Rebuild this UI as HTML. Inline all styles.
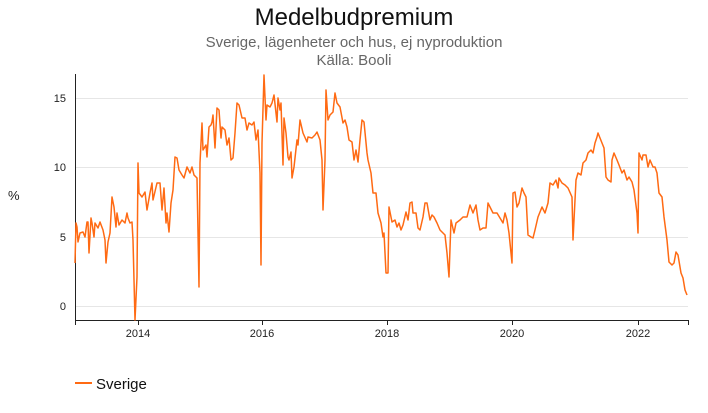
<!DOCTYPE html>
<html><head><meta charset="utf-8"><style>
body{margin:0;background:#fff;font-family:"Liberation Sans",sans-serif}
</style></head><body>
<svg width="708" height="408" xmlns="http://www.w3.org/2000/svg" font-family="Liberation Sans, sans-serif">
<text x="354" y="25" text-anchor="middle" font-size="24" fill="#111">Medelbudpremium</text>
<text x="354" y="47" text-anchor="middle" font-size="15" fill="#666">Sverige, lägenheter och hus, ej nyproduktion</text>
<text x="354" y="65" text-anchor="middle" font-size="15" fill="#666">Källa: Booli</text>
<g stroke="#e6e6e6" stroke-width="1">
<line x1="75" x2="688" y1="98.5" y2="98.5"/><line x1="75" x2="688" y1="167.5" y2="167.5"/>
<line x1="75" x2="688" y1="237.5" y2="237.5"/><line x1="75" x2="688" y1="306.5" y2="306.5"/>
</g>
<g font-size="11" fill="#222" text-anchor="end">
<text x="66" y="102">15</text><text x="66" y="171">10</text><text x="66" y="241">5</text><text x="66" y="310">0</text>
</g>
<text x="8" y="200" font-size="13" fill="#222">%</text>
<g stroke="#222" stroke-width="1" fill="none">
<path d="M75.5,74V320.5H688.5"/>
<path d="M75.5,320v5M138.5,320v5M262.5,320v5M387.5,320v5M512.5,320v5M638.5,320v5M688.5,320v5"/>
</g>
<g font-size="11" fill="#222" text-anchor="middle">
<text x="138" y="337">2014</text><text x="262" y="337">2016</text><text x="387" y="337">2018</text><text x="512" y="337">2020</text><text x="638" y="337">2022</text>
</g>
<polyline fill="none" stroke="#ff6a13" stroke-width="1.5" stroke-linejoin="round" points="75,263 76,223 77,227 78,242 80,233 83,232 85,237 87,222 88,222 89,253 91,218 92,223 94,237 95,223 98,228 100,222 103,230 105,240 106,263 108,242 110,233 112,197 114,207 116,227 117,213 119,225 122,220 125,223 127,213 128,218 130,223 132,222 133,240 135,320 137,277 138,163 139,193 142,197 145,192 147,210 150,193 152,183 153,200 157,183 160,183 162,210 164,188 166,223 167,213 169,232 171,203 173,190 175,157 177,158 179,170 182,175 184,178 187,167 190,173 192,167 194,175 197,178 199,287 200,163 202,123 203,150 206,145 207,157 209,127 211,125 212,122 213,115 215,148 217,108 219,110 221,138 222,127 225,130 227,145 229,138 231,160 233,158 235,133 237,103 239,105 242,118 245,118 247,130 249,123 252,125 254,122 256,140 258,130 260,173 261,265 262,143 264,75 266,120 267,105 270,107 272,103 274,95 277,122 278,98 280,110 281,103 283,165 284,118 286,133 288,157 289,160 291,152 292,178 294,167 297,140 298,145 300,120 303,133 307,142 308,137 312,138 315,135 317,132 320,140 322,160 323,210 325,160 326,90 328,120 330,115 333,112 335,93 337,103 340,107 343,123 345,120 347,127 349,140 352,142 354,160 356,150 358,162 360,140 362,120 364,122 367,153 368,160 371,173 373,193 376,193 378,213 381,223 383,237 384,233 386,273 388,273 389,207 392,222 395,220 397,227 399,223 401,230 403,225 406,212 408,220 410,203 412,202 413,213 416,213 418,228 420,230 423,217 425,203 427,203 430,220 432,215 434,217 437,223 440,230 443,233 445,235 447,253 449,277 451,220 454,233 456,223 460,220 463,217 467,217 470,205 473,213 476,205 478,220 480,230 483,228 486,228 488,203 490,207 493,213 497,213 500,218 503,223 505,213 507,220 509,233 512,263 513,193 515,192 517,207 519,203 522,188 524,193 526,197 528,235 531,237 533,238 535,230 538,217 542,207 545,213 548,203 550,183 553,185 556,180 558,188 559,178 562,183 565,185 568,188 572,197 573,240 576,180 578,173 581,175 583,163 586,160 588,153 591,150 593,153 595,143 597,137 598,133 600,138 602,143 604,148 606,177 608,180 611,182 612,160 614,153 617,160 619,165 622,173 624,170 627,180 629,177 632,182 634,190 637,213 638,233 639,153 642,160 643,155 646,155 648,167 650,160 653,167 655,167 657,173 659,193 662,197 664,217 667,240 669,262 672,265 674,263 676,252 678,255 681,273 683,278 685,290 687,295"/>
<line x1="75" x2="92" y1="383" y2="383" stroke="#ff6a13" stroke-width="2"/>
<text x="96" y="389" font-size="15" fill="#111">Sverige</text>
</svg>
</body></html>
